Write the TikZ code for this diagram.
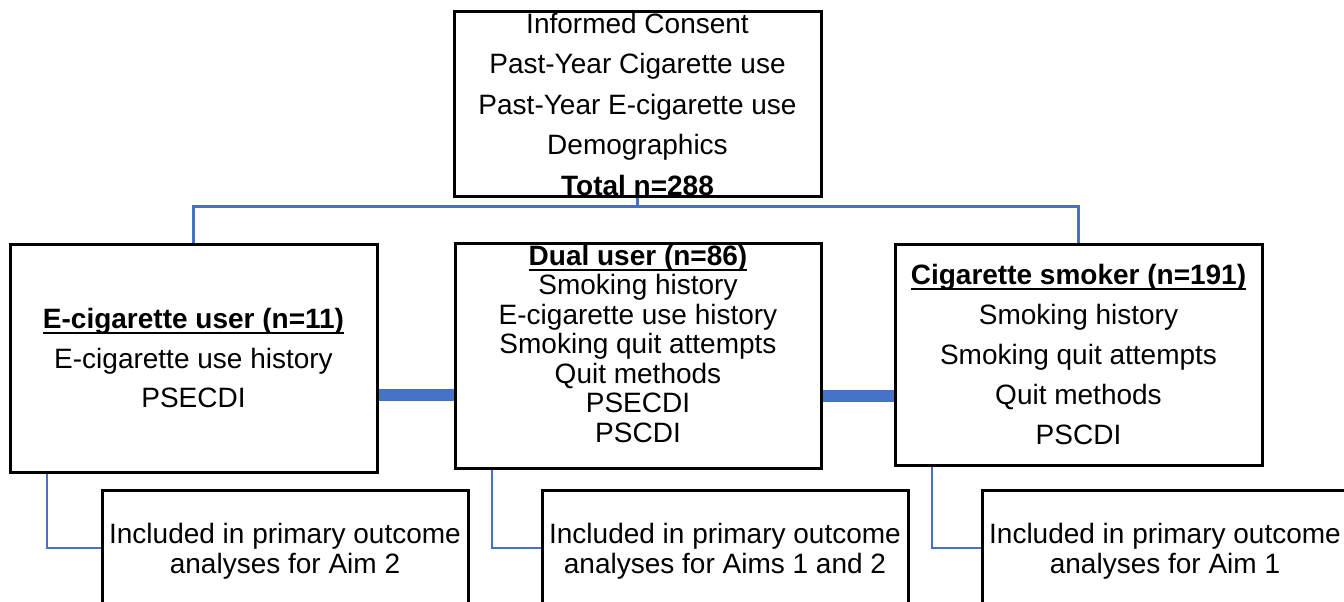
\documentclass[tikz,border=0pt]{standalone}
\usepackage{fontspec}
\setmainfont{Liberation Sans}
\usetikzlibrary{calc}
\definecolor{linkblue}{RGB}{68,114,196}
\newsavebox{\headbox}
\newcommand{\headline}[1]{\leavevmode\sbox{\headbox}{\textbf{#1}}\rlap{\rule[-5.5pt]{\wd\headbox}{1.8pt}}\usebox{\headbox}}
\newcommand{\boxlines}[3]{\parbox[c][#1][c]{360pt}{\centering\fontsize{28pt}{#2}\selectfont #3}}

\begin{document}
\begin{tikzpicture}[x=1pt, y=-1pt,
    box/.style={draw, line width=3pt, inner sep=0pt, minimum width=367pt},
    link/.style={draw=linkblue, line width=2.2pt},
    bar/.style={draw=linkblue, line width=12.5pt}]
    \useasboundingbox (0,0) rectangle (1344,602);

    \node (screen) [box, minimum height=184pt] at (637.5,104) {\boxlines{184pt}{40.5pt}{Informed Consent\\ Past-Year Cigarette use\\ Past-Year E-cigarette use\\ Demographics\\ \textbf{Total n=288}}};
    \node (ecig) [box, minimum height=228pt] at (193.5,358) {\boxlines{228pt}{39.5pt}{\headline{E-cigarette user (n=11)}\\ E-cigarette use history\\ PSECDI}};
    \node (dual) [box, minimum width=366pt, minimum height=225pt] at (638,355.5) {\boxlines{225pt}{29.5pt}{\headline{Dual user (n=86)}\\ Smoking history\\ E-cigarette use history\\ Smoking quit attempts\\ Quit methods\\ PSECDI\\ PSCDI\par\vspace*{24pt}}};
    \node (smoker) [box, minimum height=221pt] at (1078.5,354.5) {\boxlines{221pt}{40pt}{\headline{Cigarette smoker (n=191)}\\ Smoking history\\ Smoking quit attempts\\ Quit methods\\ PSCDI}};
    \node (aimtwo) [box, minimum width=366pt, minimum height=122pt] at (285,551) {\boxlines{122pt}{30pt}{Included in primary outcome\\ analyses for Aim 2}};
    \node (aimboth) [box, minimum width=366pt, minimum height=122pt] at (725,551) {\boxlines{122pt}{30pt}{Included in primary outcome\\ analyses for Aims 1 and 2}};
    \node (aimone) [box, minimum width=366pt, minimum height=122pt] at (1165,551) {\boxlines{122pt}{30pt}{Included in primary outcome\\ analyses for Aim 1}};

    \draw[link] (screen.south) -- ++(0,9) coordinate (split);
    \draw[link] (ecig.north) |- (split) -| (smoker.north);
    \draw[bar] ([yshift=-37pt]ecig.east) -- ([yshift=-37pt]ecig.east -| dual.west);
    \draw[bar] ([yshift=-40.5pt]dual.east) -- ([yshift=-40.5pt]dual.east -| smoker.west);
    \draw[link] ([xshift=-146.5pt]ecig.south) |- ([yshift=3pt]aimtwo.west);
    \draw[link] ([xshift=-146pt]dual.south) |- ([yshift=3pt]aimboth.west);
    \draw[link] ([xshift=-146.5pt]smoker.south) |- ([yshift=3pt]aimone.west);
\end{tikzpicture}
\end{document}
